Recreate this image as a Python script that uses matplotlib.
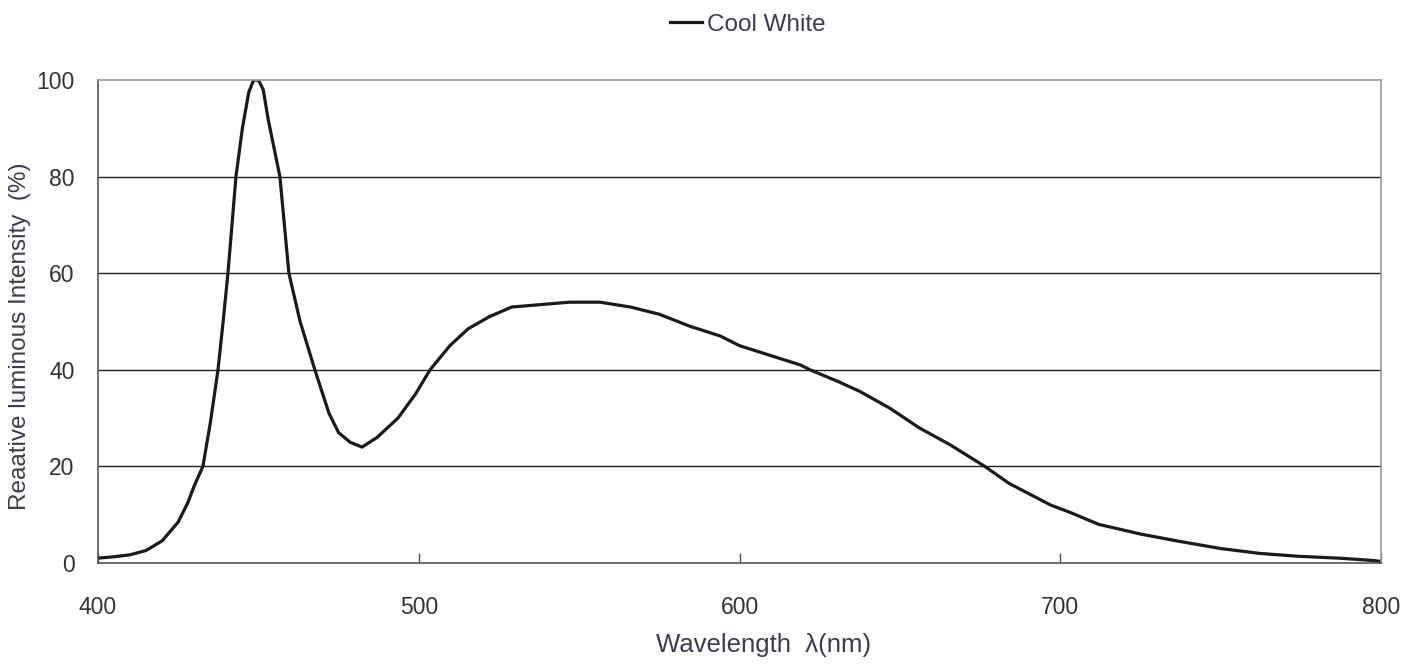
import numpy as np
import matplotlib.pyplot as plt

# spectrum (wavelength nm, relative intensity %)
wavelength = [400, 405, 410, 415, 420, 425, 428, 430, 432.7, 435, 437.4, 439, 440.5, 443,
              445, 447, 448.5, 450, 451.5, 453, 456.7, 459.5, 463, 467.6, 472, 475,
              478.6, 482.3, 487, 493.5, 499, 503.5, 509.7, 515.4, 522, 529, 538, 547,
              556.5, 566, 575, 584.6, 594, 600, 609.5, 619, 622, 631, 637.6, 647, 656,
              665.6, 676.5, 684, 697, 703, 712, 725, 737, 750, 762, 774, 787, 798, 800]
intensity = [1.0, 1.3, 1.7, 2.6, 4.6, 8.5, 12.5, 16.0, 20.0, 29.0, 40.0, 50.0, 60.0, 80.0,
             90.0, 97.5, 100.0, 100.0, 98.0, 92.0, 80.0, 60.0, 50.0, 40.0, 31.0, 27.0,
             25.0, 24.0, 26.0, 30.0, 35.0, 40.0, 45.0, 48.5, 51.0, 53.0, 53.5, 54.0,
             54.0, 53.0, 51.5, 49.0, 47.0, 45.0, 43.0, 41.0, 40.0, 37.5, 35.5, 32.0, 28.0,
             24.5, 20.0, 16.5, 12.0, 10.5, 8.0, 6.0, 4.5, 3.0, 2.0, 1.4, 1.0, 0.5, 0.3]

series_name = 'Cool White'
x_ticks = [400, 500, 600, 700, 800]
y_ticks = [0, 20, 40, 60, 80, 100]

plt.rcParams['font.family'] = ['Liberation Sans', 'DejaVu Sans']
text_col = '#3c3c4c'

fig = plt.figure(figsize=(14.19, 6.64), dpi=100)
ax = fig.add_axes([0.0691, 0.1521, 0.9041, 0.7274])

ax.plot(wavelength, intensity, color='#1a1a1a', lw=2.3, label=series_name)

ax.set_xlim(400, 800)
ax.set_ylim(0, 100)
ax.set_xticks(x_ticks)
ax.set_yticks(y_ticks)
for y in y_ticks[1:-1]:
    ax.axhline(y, color='#202020', lw=1.0, zorder=0)

ax.spines['left'].set_color('#555555')
ax.spines['bottom'].set_color('#555555')
ax.spines['top'].set_color('#9a9a9a')
ax.spines['right'].set_color('#9a9a9a')
for s in ax.spines.values():
    s.set_linewidth(1.2)

ax.tick_params(axis='x', direction='in', length=7, width=1, color='#555555',
               pad=24, labelsize=16.5, labelcolor='#333333')
ax.tick_params(axis='y', length=0, pad=17, labelsize=16.5, labelcolor='#333333')

ax.set_xlabel('Wavelength  λ(nm)', fontsize=18.5, color=text_col, va='center')
ax.xaxis.set_label_coords(0.519, -0.17)
ax.set_ylabel('Reaative luminous Intensity  (%)', fontsize=17.5, color=text_col, va='center')
ax.yaxis.set_label_coords(-0.061, 0.47)

leg = fig.legend(loc='upper center', bbox_to_anchor=(0.527, 1.012), frameon=False,
                 fontsize=17.5, handlelength=1.3, handletextpad=0.2)
for t in leg.get_texts():
    t.set_color(text_col)

fig.savefig('out.png', dpi=100)
